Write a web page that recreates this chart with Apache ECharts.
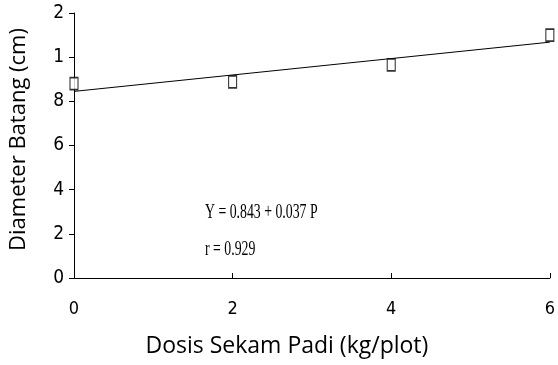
<!DOCTYPE html>
<html>
<head>
<meta charset="utf-8">
<script src="https://cdn.jsdelivr.net/npm/echarts@6/dist/echarts.min.js"></script>
<style>
  html, body { margin: 0; padding: 0; background: #fff; }
  #chart { width: 558px; height: 365px; }
</style>
</head>
<body>
<div id="chart"></div>
<script>
// data
var doses = [0, 2, 4, 6];
var diameters = [0.88, 0.888, 0.965, 1.10];
// fitted line Y = 0.843 + 0.037 P, ends
var lineX = [0, 6];
var lineY = [0.845, 1.068];
// y tick labels as printed (truncated in the original)
var yTickLabels = ['0', '2', '4', '6', '8', '1', '2'];
var xTickLabels = ['0', '2', '4', '6'];

var chart = echarts.init(document.getElementById('chart'));

var points = [];
for (var i = 0; i < doses.length; i++) {
  points.push([doses[i], diameters[i]]);
}
var fit = [];
for (var j = 0; j < lineX.length; j++) {
  fit.push([lineX[j], lineY[j]]);
}

var tickFont = 'DejaVu Sans Condensed';

var option = {
  animation: false,
  backgroundColor: '#fff',
  grid: { left: 72, right: 5, top: 13, bottom: 87 },
  xAxis: {
    type: 'value',
    min: 0, max: 6, interval: 2,
    name: 'Dosis Sekam Padi (kg/plot)',
    nameLocation: 'middle',
    nameGap: 57,
    nameTextStyle: { fontFamily: 'Open Sans', fontSize: 23, color: '#000', padding: [0, 50, 0, 0] },
    axisLine: { lineStyle: { color: '#000', width: 1 } },
    axisTick: { inside: true, length: 5, lineStyle: { color: '#000' } },
    axisLabel: {
      margin: 22,
      fontFamily: tickFont,
      fontSize: 18, color: '#000',
      formatter: function (v) { return xTickLabels[Math.round(v / 2)]; }
    },
    splitLine: { show: false }
  },
  yAxis: {
    type: 'value',
    min: 0, max: 1.2, interval: 0.2,
    name: 'Diameter Batang (cm)',
    nameLocation: 'middle',
    nameGap: 44,
    nameTextStyle: { fontFamily: 'Open Sans', fontSize: 22, color: '#000', padding: [0, 0, 0, 12] },
    axisLine: { show: true, lineStyle: { color: '#000', width: 1 } },
    axisTick: { show: true, length: 5, lineStyle: { color: '#000' } },
    axisLabel: {
      margin: 10,
      fontFamily: tickFont,
      fontSize: 19, color: '#000',
      formatter: function (v) { return yTickLabels[Math.round(v / 0.2)]; }
    },
    splitLine: { show: false }
  },
  graphic: [
    {
      type: 'text', x: 205, y: 203, scaleX: 0.69,
      style: { text: 'Y = 0.843 + 0.037 P', font: '20px "Liberation Serif"', fill: '#000' }
    },
    {
      type: 'text', x: 205, y: 240, scaleX: 0.69,
      style: { text: 'r = 0.929', font: '20px "Liberation Serif"', fill: '#000' }
    }
  ],
  series: [
    {
      type: 'line',
      data: fit,
      symbol: 'none',
      lineStyle: { color: '#000', width: 1 },
      z: 2
    },
    {
      type: 'scatter',
      data: points,
      symbol: 'rect',
      symbolSize: [8, 12],
      itemStyle: { color: '#fff', borderColor: '#000', borderWidth: 1.3 },
      z: 3
    }
  ]
};
chart.setOption(option);
</script>
</body>
</html>
